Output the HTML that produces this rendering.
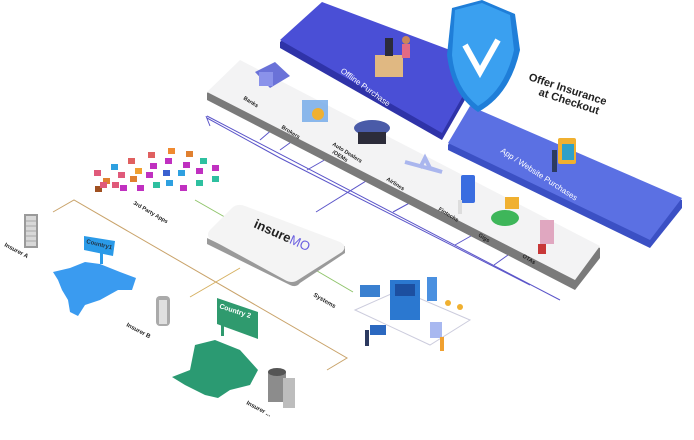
<!DOCTYPE html>
<html><head><meta charset="utf-8"><style>
html,body{margin:0;padding:0;background:#fff;}
svg{display:block;font-family:"Liberation Sans",sans-serif;}
</style></head><body>
<svg width="694" height="440" viewBox="0 0 694 440" xmlns="http://www.w3.org/2000/svg">
<!-- purple connector lines -->
<g stroke="#5b55c9" stroke-width="1" fill="none">
<path d="M207,116 L560,300"/>
<path d="M210,126 L206,116"/>
<path d="M280,150 L305,132"/>
<path d="M260,140 L274,128"/>
<path d="M307,170 L328,158"/>
<path d="M316,212 L400,160"/>
<path d="M393,212 L415,200"/>
<path d="M455,245 L478,232"/>
<path d="M494,265 L515,250"/>
<path d="M207,118 L280,158 L530,285"/>
</g>
<!-- gray strip -->
<polygon points="207,93 240,62 600,248 600,258 575,290 207,100" fill="#7a7a7a"/>
<polygon points="207,92 240,60 600,246 575,280" fill="#f3f3f4"/>
<!-- offline purchase panel -->
<polygon points="280,42 322,3 480,62 482,70 442,140 280,48" fill="#2f33a8"/>
<polygon points="280,40 322,2 482,62 442,133" fill="#4a4fd6"/>
<text transform="translate(340,72) rotate(36)" fill="#fff" font-size="8">Offline Purchase</text>
<!-- boxes person -->
<rect x="375" y="55" width="28" height="22" fill="#e0b882"/>
<rect x="385" y="38" width="8" height="18" fill="#2b2b3b"/>
<circle cx="406" cy="40" r="4" fill="#c9865a"/>
<rect x="402" y="44" width="8" height="14" fill="#e16a84"/>
<!-- App panel -->
<polygon points="448,145 470,108 682,200 682,208 650,248 448,150" fill="#3b50c4"/>
<polygon points="448,143 470,106 682,198 650,240" fill="#5b70e3"/>
<text transform="translate(500,152) rotate(33)" fill="#fff" font-size="8">App / Website Purchases</text>
<rect x="558" y="138" width="18" height="26" fill="#f0b030" rx="2"/>
<rect x="562" y="144" width="12" height="16" fill="#2ea0c8"/>
<rect x="552" y="150" width="5" height="22" fill="#2c3a60"/>
<!-- shield -->
<path d="M452,8 L482,0 L515,14 L520,50 Q510,95 478,112 Q452,95 447,55 Z" fill="#1f7ed8"/>
<path d="M455,10 L482,3 L510,15 L514,50 Q505,90 478,106 Q455,88 452,55 Z" fill="#3aa0f0"/>
<path d="M465,45 L480,72 L498,40" stroke="#fff" stroke-width="6" fill="none"/>
<text transform="translate(528,80) rotate(18)" font-size="11" font-weight="bold" fill="#222">Offer Insurance</text>
<text transform="translate(538,95) rotate(18)" font-size="11" font-weight="bold" fill="#222">at Checkout</text>
<!-- strip icons -->
<polygon points="255,72 275,62 290,76 270,88" fill="#6a72d8"/>
<rect x="259" y="72" width="14" height="14" fill="#8a92ea"/>
<rect x="302" y="100" width="26" height="22" fill="#6fa8e8" opacity=".8"/>
<circle cx="318" cy="114" r="6" fill="#f0b030"/>
<ellipse cx="372" cy="128" rx="18" ry="8" fill="#4a5ba8"/>
<rect x="358" y="132" width="28" height="12" fill="#2c2c3a"/>
<path d="M405,162 L442,172 L430,168 L425,158 L420,168" stroke="#aab6ee" stroke-width="4" fill="none"/>
<rect x="461" y="175" width="14" height="28" rx="2" fill="#3a6de0"/>
<rect x="458" y="200" width="4" height="14" fill="#ddd"/>
<ellipse cx="505" cy="218" rx="14" ry="8" fill="#3eb65a"/>
<rect x="505" y="197" width="14" height="12" fill="#f0b030"/>
<rect x="540" y="220" width="14" height="24" fill="#e0a7c0"/>
<rect x="538" y="244" width="8" height="10" fill="#c83838"/>
<g font-size="5.5" font-weight="bold" fill="#222">
<text transform="translate(243,99) rotate(32)">Banks</text>
<text transform="translate(281,128) rotate(32)">Brokers</text>
<text transform="translate(332,145) rotate(32)">Auto Dealers</text>
<text transform="translate(332,153) rotate(32)">/OEMs</text>
<text transform="translate(386,180) rotate(32)">Airlines</text>
<text transform="translate(438,210) rotate(32)">Fintechs</text>
<text transform="translate(478,236) rotate(32)">Gigs</text>
<text transform="translate(522,257) rotate(32)">OTAs</text>
</g>
<!-- app icons grid -->
<g>
<rect x="94" y="170" width="7" height="6" fill="#e05a7a"/><rect x="111" y="164" width="7" height="6" fill="#2ea0e0"/>
<rect x="128" y="158" width="7" height="6" fill="#e06060"/><rect x="148" y="152" width="7" height="6" fill="#e06060"/>
<rect x="168" y="148" width="7" height="6" fill="#f08a30"/><rect x="186" y="151" width="7" height="6" fill="#e08030"/>
<rect x="103" y="178" width="7" height="6" fill="#e08030"/><rect x="118" y="172" width="7" height="6" fill="#e05a7a"/>
<rect x="135" y="168" width="7" height="6" fill="#f0a030"/><rect x="150" y="163" width="7" height="6" fill="#c030c0"/>
<rect x="165" y="158" width="7" height="6" fill="#c030c0"/><rect x="183" y="162" width="7" height="6" fill="#c030c0"/>
<rect x="200" y="158" width="7" height="6" fill="#2ec0a0"/><rect x="212" y="165" width="7" height="6" fill="#c030c0"/>
<rect x="95" y="186" width="7" height="6" fill="#a05020"/><rect x="112" y="182" width="7" height="6" fill="#e05a7a"/>
<rect x="130" y="176" width="7" height="6" fill="#e08030"/><rect x="146" y="172" width="7" height="6" fill="#c030c0"/>
<rect x="163" y="170" width="7" height="6" fill="#3a60d0"/><rect x="178" y="170" width="7" height="6" fill="#2ea0e0"/>
<rect x="196" y="168" width="7" height="6" fill="#c030c0"/><rect x="212" y="176" width="7" height="6" fill="#2ec0a0"/>
<rect x="100" y="182" width="7" height="6" fill="#e05a7a"/><rect x="120" y="185" width="7" height="6" fill="#c030c0"/>
<rect x="137" y="185" width="7" height="6" fill="#c030c0"/><rect x="153" y="182" width="7" height="6" fill="#2ec0a0"/>
<rect x="166" y="180" width="7" height="6" fill="#2ea0e0"/><rect x="180" y="185" width="7" height="6" fill="#c030c0"/>
<rect x="196" y="180" width="7" height="6" fill="#2ec0a0"/>
</g>
<text transform="translate(133,204) rotate(30)" font-size="5.5" font-weight="bold" fill="#222">3rd Party Apps</text>
<!-- orange / green connectors -->
<g fill="none" stroke-width="1">
<path d="M53,212 L74,200 L347,358 L327,370" stroke="#c9a36a"/>
<path d="M190,297 L240,268" stroke="#d6b060"/>
<path d="M195,200 L230,220" stroke="#8fc46a"/>
<path d="M312,268 L353,292" stroke="#8fc46a"/>
</g>
<!-- insureMO box -->
<path d="M207,244 L290,285 Q296,288 300,283 L345,253 L345,246 L290,278 L207,238 Z" fill="#9a9a9a"/>
<path d="M212,240 Q205,236 210,230 L232,208 Q237,203 245,206 L340,242 Q348,246 342,252 L298,280 Q292,284 285,280 Z" fill="#f4f4f4"/>
<text transform="translate(253,227) rotate(24)" font-size="13" font-weight="bold" fill="#222">insure<tspan fill="#6a5fe0" font-weight="normal">MO</tspan></text>
<text transform="translate(313,296) rotate(30)" font-size="6" font-weight="bold" fill="#222">Systems</text>
<!-- systems illustration -->
<g>
<path d="M355,310 L400,290 L470,320 L430,345 Z" fill="none" stroke="#ccd" stroke-width="1"/>
<rect x="390" y="280" width="30" height="40" fill="#2b78d0"/>
<rect x="395" y="284" width="20" height="12" fill="#1c4fa0"/>
<rect x="427" y="277" width="10" height="24" fill="#4a90e0"/>
<rect x="360" y="285" width="20" height="12" fill="#3a80d0"/>
<rect x="370" y="325" width="16" height="10" fill="#2b68c0"/>
<rect x="430" y="322" width="12" height="16" fill="#a8b8f0"/>
<circle cx="448" cy="303" r="3" fill="#f0b030"/><circle cx="460" cy="307" r="3" fill="#f0b030"/>
<rect x="365" y="330" width="4" height="16" fill="#2c3a60"/>
<rect x="440" y="337" width="4" height="14" fill="#f0a030"/>
</g>
<!-- insurer A building -->
<rect x="24" y="214" width="14" height="34" fill="#9a9a9a"/>
<rect x="26" y="216" width="10" height="30" fill="#d8d8d8"/>
<g stroke="#777" stroke-width=".6"><path d="M26,221h10M26,226h10M26,231h10M26,236h10M26,241h10"/></g>
<text transform="translate(4,246) rotate(28)" font-size="6" font-weight="bold" fill="#222">Insurer A</text>
<!-- country 1 -->
<polygon points="84,236 115,241 113,256 84,250" fill="#2a9ae8"/>
<text transform="translate(86,243) rotate(14)" font-size="6" font-weight="bold" fill="#234">Country1</text>
<rect x="100" y="252" width="3" height="12" fill="#2a9ae8"/>
<path d="M53,272 L70,268 L85,262 L100,264 L120,272 L136,278 L132,290 L118,290 L100,300 L85,305 L78,316 L70,312 L68,300 L62,290 L58,280 Z" fill="#3a9bf0"/>
<!-- insurer B -->
<rect x="156" y="296" width="14" height="30" rx="4" fill="#aaa"/>
<rect x="159" y="300" width="8" height="24" fill="#e0e0e0"/>
<text transform="translate(126,326) rotate(28)" font-size="6" font-weight="bold" fill="#222">Insurer B</text>
<!-- country 2 -->
<polygon points="217,298 258,312 258,339 217,324" fill="#2f9a6e"/>
<text transform="translate(219,308) rotate(18)" font-size="7" font-weight="bold" fill="#fff">Country 2</text>
<rect x="221" y="322" width="3" height="14" fill="#2f9a6e"/>
<path d="M172,377 L190,370 L195,345 L215,340 L240,350 L258,370 L250,385 L230,390 L218,398 L205,395 L185,385 Z" fill="#2b9a72"/>
<!-- insurer ... -->
<rect x="268" y="372" width="18" height="30" fill="#8c8c8c"/>
<rect x="283" y="378" width="12" height="30" fill="#bdbdbd"/>
<ellipse cx="277" cy="372" rx="9" ry="4" fill="#555"/>
<text transform="translate(246,404) rotate(28)" font-size="6" font-weight="bold" fill="#222">Insurer ...</text>
</svg>
</body></html>
